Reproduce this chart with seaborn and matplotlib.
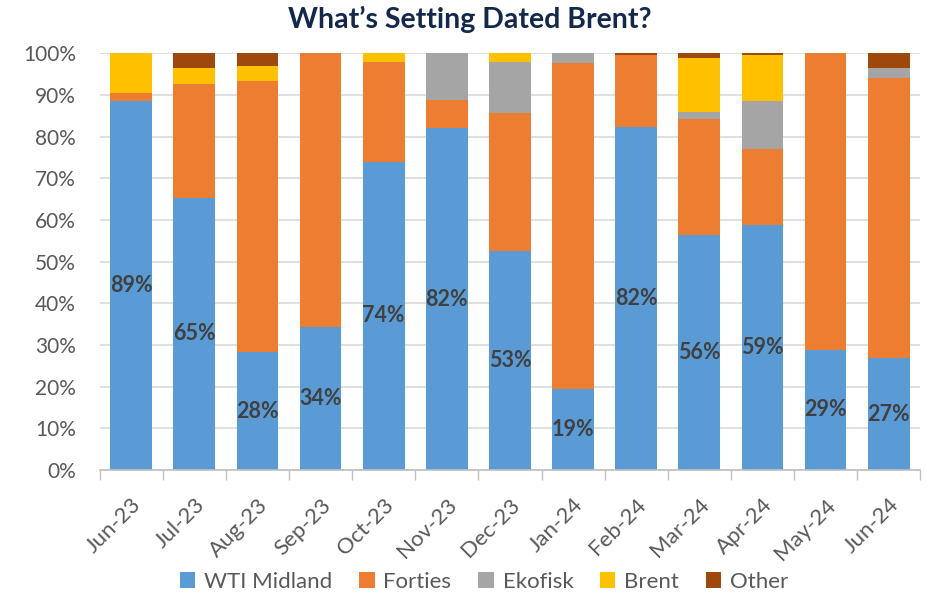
import numpy as np
import pandas as pd
import matplotlib
matplotlib.use("Agg")
import matplotlib.pyplot as plt
from matplotlib.patches import Patch
import seaborn as sns

months = ["Jun-23", "Jul-23", "Aug-23", "Sep-23", "Oct-23", "Nov-23", "Dec-23",
          "Jan-24", "Feb-24", "Mar-24", "Apr-24", "May-24", "Jun-24"]
wti_midland = [88.6, 65.3, 28.2, 34.3, 74.0, 82.0, 52.6, 19.4, 82.3, 56.3, 58.7, 28.8, 26.8]
forties     = [1.9, 27.3, 65.2, 65.7, 24.0, 6.8, 33.2, 78.3, 17.4, 27.9, 18.4, 71.2, 67.2]
ekofisk     = [0.0, 0.0, 0.0, 0.0, 0.0, 11.2, 12.2, 2.3, 0.0, 1.8, 11.5, 0.0, 2.6]
brent       = [9.5, 4.0, 3.6, 0.0, 2.0, 0.0, 2.0, 0.0, 0.0, 12.8, 11.1, 0.0, 0.0]
other       = [0.0, 3.4, 3.0, 0.0, 0.0, 0.0, 0.0, 0.0, 0.3, 1.2, 0.3, 0.0, 3.4]

series_names = ["WTI Midland", "Forties", "Ekofisk", "Brent", "Other"]
series_vals = [wti_midland, forties, ekofisk, brent, other]
colors = ["#5B9BD5", "#ED7D31", "#A5A5A5", "#FFC000", "#9E480E"]

sns.set_theme(style="white")
plt.rcParams["font.family"] = ["Lato", "DejaVu Sans"]

fig = plt.figure(figsize=(9.4, 6.0), dpi=100)
ax = fig.add_axes([0.106, 0.217, 0.873, 0.694])

cum = np.cumsum(np.array(series_vals), axis=0)
# draw cumulative totals from top to bottom so lower segments overlay
for i in range(len(series_names) - 1, -1, -1):
    df = pd.DataFrame({"month": months, "value": cum[i]})
    sns.barplot(data=df, x="month", y="value", color=colors[i], width=0.66,
                saturation=1, ax=ax, linewidth=0, order=months)

for j, v in enumerate(wti_midland):
    ax.text(j, v / 2, f"{round(v)}%", ha="center", va="center",
            fontsize=15.5, fontweight="bold", color="#404040")

ax.set_ylim(0, 100)
ax.set_xlim(-0.5, len(months) - 0.5)
ax.set_yticks(np.arange(0, 101, 10))
ax.set_yticklabels([f"{t}%" for t in range(0, 101, 10)], fontsize=15, color="#595959")
ax.yaxis.grid(True, color="#D9D9D9", linewidth=1.2)
ax.set_axisbelow(True)
ax.set_xlabel("")
ax.set_ylabel("")
ax.set_xticks(range(len(months)))
ax.set_xticklabels(months, rotation=45, ha="right", rotation_mode="anchor",
                   fontsize=16, color="#595959")
ax.set_xticks(np.arange(-0.5, len(months), 1), minor=True)
ax.tick_params(axis="x", which="major", length=0, pad=18)
ax.tick_params(axis="x", which="minor", length=7, color="#BFBFBF", width=1, bottom=True)
ax.tick_params(axis="y", length=0, pad=17)
for s in ["top", "right", "left"]:
    ax.spines[s].set_visible(False)
ax.spines["bottom"].set_color("#BFBFBF")
ax.spines["bottom"].set_linewidth(1.2)

fig.suptitle("What\u2019s Setting Dated Brent?", fontsize=20.5, fontweight="bold",
             color="#14284B", y=0.99)

handles = [Patch(facecolor=c, edgecolor="none", label=n) for n, c in zip(series_names, colors)]
fig.legend(handles=handles, loc="lower center", ncol=5, frameon=False,
           fontsize=16, labelcolor="#595959", bbox_to_anchor=(0.515, -0.02),
           handlelength=0.7, handleheight=0.7, handletextpad=0.4, columnspacing=1.2)

fig.savefig("out.png", dpi=100)
